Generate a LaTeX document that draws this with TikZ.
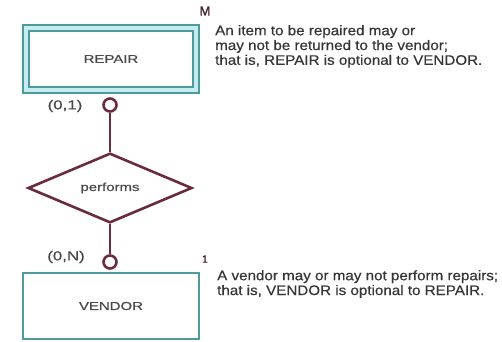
\documentclass[tikz,border=0pt]{standalone}
\usepackage{fontspec}
\setmainfont{Liberation Sans}
\newfontfamily\boxfont[FakeStretch=1.3,FakeBold=0.6]{Liberation Sans}
\newfontfamily\cardfont[FakeStretch=1.3,FakeBold=0.8]{Liberation Sans}
\newfontfamily\notefont[FakeStretch=1.1,FakeBold=0.5]{Liberation Sans}
\newfontfamily\tagfont[FakeBold=1.2]{Liberation Sans}
\usetikzlibrary{shapes.geometric}

\definecolor{entteal}{HTML}{4F9A9C}
\definecolor{entcyan}{HTML}{C5ECEE}
\definecolor{relmaroon}{HTML}{6A2C3C}
\definecolor{lblgray}{HTML}{4A4A4A}
\definecolor{notegray}{HTML}{363636}

\tikzset{
  entity/.style={rectangle, draw=entteal, line width=2.2pt, fill=white,
    inner sep=0pt, text=lblgray, font=\boxfont\fontsize{11.5}{13}\selectfont},
  weakentity/.style={entity, line width=2pt, double=entcyan, double distance=3.6pt},
  relation/.style={diamond, draw=relmaroon, line width=2.6pt, fill=white,
    inner sep=0pt, text=lblgray, font=\boxfont\fontsize{11.5}{13}\selectfont},
  optring/.style={circle, draw=relmaroon, line width=2.6pt, fill=white,
    minimum size=13pt, inner sep=0pt},
  link/.style={draw=relmaroon, line width=2.6pt},
  card/.style={text=lblgray, inner sep=0pt, font=\cardfont\fontsize{13}{15}\selectfont},
  tag/.style={text=relmaroon!60!black, inner sep=0pt},
  note/.style={text=notegray, inner sep=0pt, align=left, anchor=north west,
    font=\notefont\fontsize{13.8}{14.8}\selectfont},
}

\begin{document}
\begin{tikzpicture}[x=1pt, y=-1pt]
  \useasboundingbox (0,0) rectangle (502,341);

  % entities
  \node[weakentity, minimum width=170pt, minimum height=62pt] (repair) at (111,59) {REPAIR};
  \node[entity, minimum width=176pt, minimum height=66pt] (vendor) at (111,306) {VENDOR};

  % relationship
  \node[relation, minimum width=164pt, minimum height=65pt] (performs) at (110,188) {performs};

  % optionality rings
  \node[optring] (ringtop) at (110,105) {};
  \node[optring] (ringbot) at (110,262) {};

  % connectors
  \draw[link] (ringtop) -- (performs.north);
  \draw[link] (performs.south) -- (ringbot);

  % cardinalities
  \node[card] (cardtop) at (65,106) {(0,1)};
  \node[card] (cardbot) at (66,257) {(0,N)};
  \node[tag, font=\tagfont\fontsize{13}{14}\selectfont] (tagM) at (205,11) {M};
  \node[tag, font=\tagfont\fontsize{10.5}{12}\selectfont] (tag1) at (205,259) {1};

  % explanatory notes
  \node[note] (notetop) at (215,25) {An item to be repaired may or\\may not be returned to the vendor;\\that is, REPAIR is optional to VENDOR.};
  \node[note] (notebot) at (217,270) {A vendor may or may not perform repairs;\\that is, VENDOR is optional to REPAIR.};
\end{tikzpicture}
\end{document}
